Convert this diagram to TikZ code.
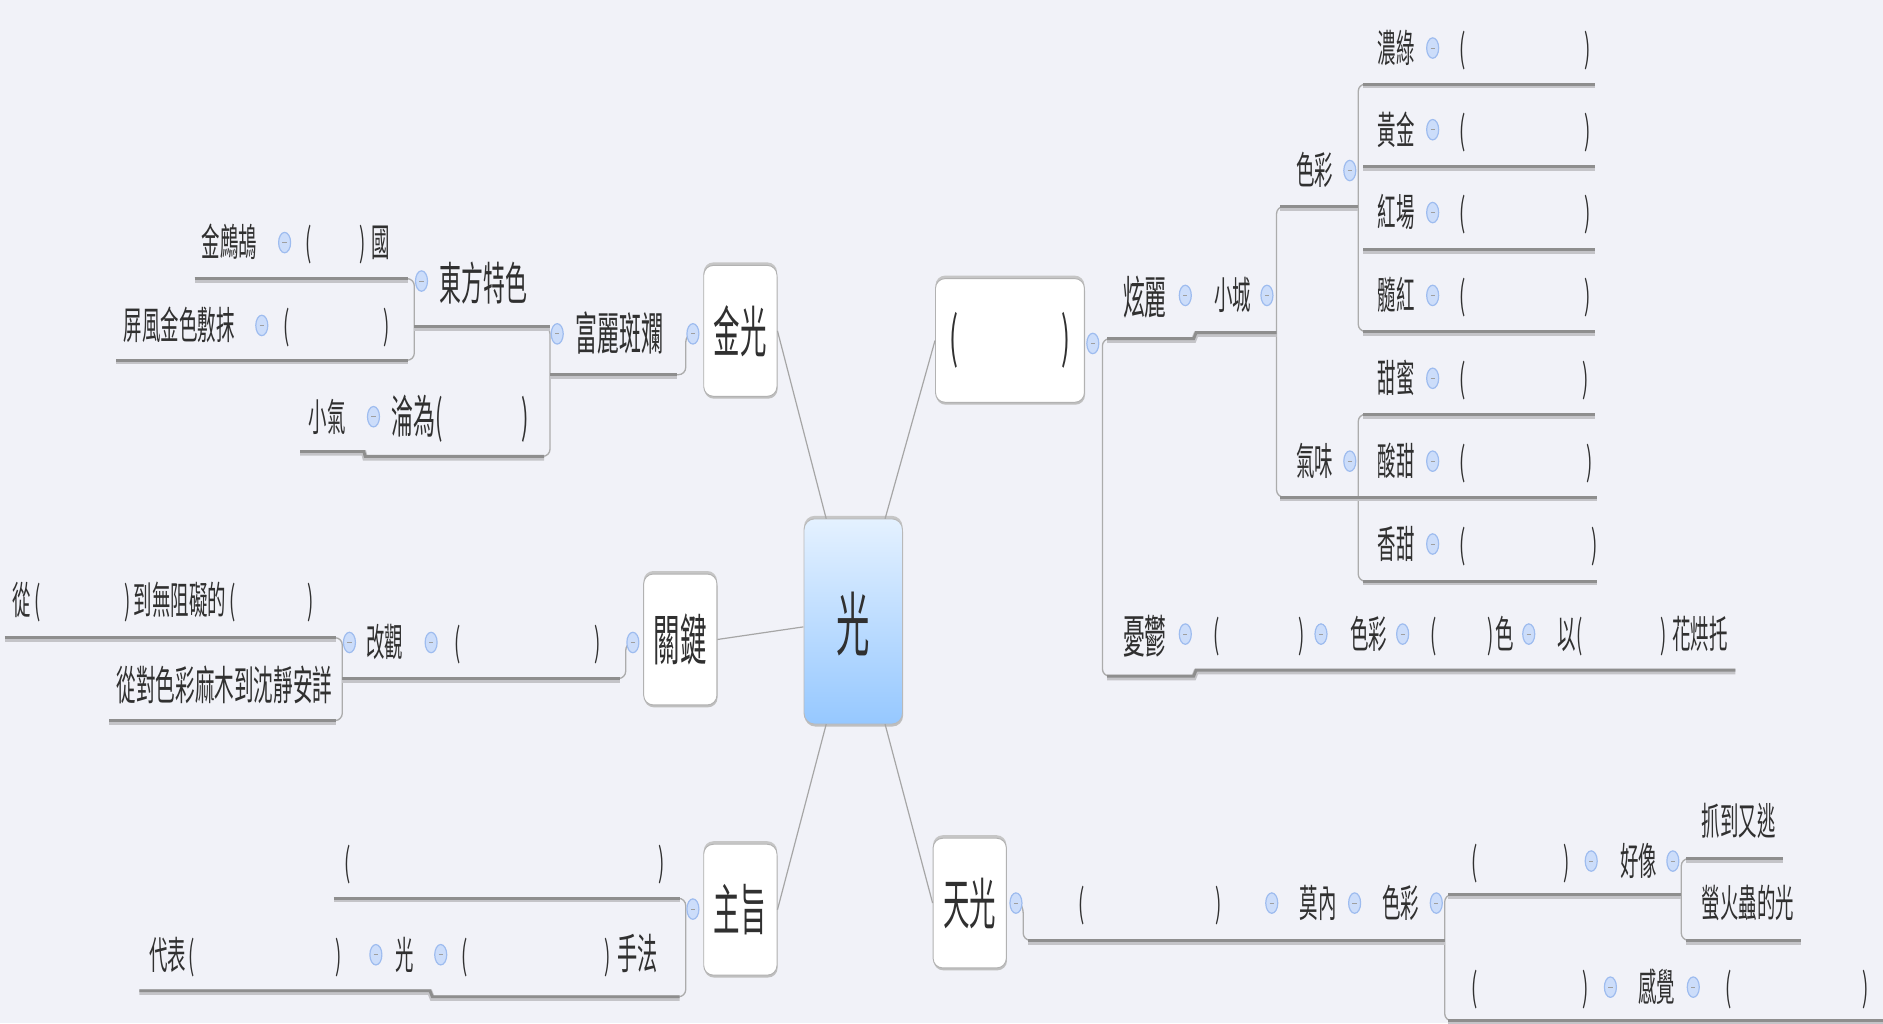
\documentclass[tikz,border=0pt]{standalone}
\usepackage{fontspec}
\newfontfamily\cjk[FakeStretch=0.48]{Noto Sans CJK TC}
\usetikzlibrary{shapes.geometric,shadows}
\definecolor{bgc}{HTML}{F1F2F8}
\definecolor{txc}{HTML}{303030}
\definecolor{lnc}{HTML}{8E8E8E}
\definecolor{lnl}{HTML}{C4C4C8}
\definecolor{mkf}{HTML}{CCDDFA}
\definecolor{mkd}{HTML}{9EBCEF}
\definecolor{ctop}{HTML}{E4F1FF}
\definecolor{cbot}{HTML}{96C8FF}
\newcommand\blk[1]{\makebox[#1pt]{(\hfill)}}
\begin{document}
\begin{tikzpicture}[x=1pt,y=-1pt,
  tx/.style={inner sep=0pt, anchor=west, text=txc},
  tsm/.style={tx, font=\cjk\fontsize{32}{36}\selectfont, text height=28pt, text depth=4pt},
  tmd/.style={tx, font=\cjk\fontsize{38}{42}\selectfont, text height=33pt, text depth=5pt},
  tlg/.style={font=\cjk\fontsize{46}{50}\selectfont, text=txc},
  bx/.style={draw=gray!60, fill=white, rounded corners=8pt, line width=0.8pt, inner sep=0pt,
     general shadow={fill=gray!50, shadow yshift=-2pt, shadow xshift=0.5pt},
     general shadow={fill=gray!45, shadow yshift=2.5pt}},
  mk/.style={ellipse, minimum width=10pt, minimum height=17pt, inner sep=0pt, fill=mkf, draw=mkd, line width=1pt,
     path picture={\draw[gray!75, line width=0.7pt] ([xshift=-1.8pt]path picture bounding box.center) -- ([xshift=1.8pt]path picture bounding box.center);}},
  ul/.style={draw=lnc, line width=2.4pt, preaction={draw=lnl, line width=4.6pt, transform canvas={yshift=-1.2pt}}},
  vl/.style={draw=gray!65, line width=1.1pt, rounded corners=6pt},
  cn/.style={draw=gray!70, line width=1pt}]
\fill[bgc] (0,0) rectangle (1568,852);
\useasboundingbox (0,0) rectangle (1568,852);

% ---------- thin connectors (verticals) ----------
\draw[vl] (335,232) -- (345,232) -- (345,300) -- (335,300);
\draw[vl] (448,272) -- (458,272) -- (458,380) -- (448,380);
\draw[vl] (558,312) -- (571,312) -- (571,279) -- (573,278);
\draw[vl] (275,531) -- (285,531) -- (285,600) -- (275,600);
\draw[vl] (508,565) -- (521,565) -- (521,536) -- (523,535);
\draw[vl] (560,748) -- (571,748) -- (571,830) -- (560,830);
\draw[vl] (928,282) -- (918,282) -- (918,563) -- (928,563);
\draw[vl] (1073,172) -- (1063,172) -- (1063,414) -- (1073,414);
\draw[vl] (1141,70) -- (1131,70) -- (1131,276) -- (1141,276);
\draw[vl] (1141,345) -- (1131,345) -- (1131,484) -- (1141,484);
\draw[vl] (850,752) -- (852,754) -- (852,783) -- (862,783);
\draw[vl] (1213,745) -- (1203,745) -- (1203,850) -- (1213,850);
\draw[vl] (1410,715) -- (1400,715) -- (1400,783) -- (1410,783);

% ---------- underlines ----------
\draw[ul] (162,232) -- (340,232);
\draw[ul] (97,300) -- (340,300);
\draw[ul] (345,272) -- (458,272);
\draw[ul] (250,376) -- (303,376) -- (304,380) -- (453,380);
\draw[ul] (458,312) -- (564,312);
\draw[ul] (4,531) -- (280,531);
\draw[ul] (91,600) -- (280,600);
\draw[ul] (285,565) -- (516,565);
\draw[ul] (278,748) -- (566,748);
\draw[ul] (116,825) -- (358,825) -- (360,830) -- (566,830);
\draw[ul] (922,282) -- (994,282) -- (996,277) -- (1063,277);
\draw[ul] (1066,172) -- (1131,172);
\draw[ul] (1066,414) -- (1330,414);
\draw[ul] (1135,70) -- (1328,70);
\draw[ul] (1135,139) -- (1328,139);
\draw[ul] (1135,208) -- (1328,208);
\draw[ul] (1135,276) -- (1328,276);
\draw[ul] (1135,345) -- (1328,345);
\draw[ul] (1135,484) -- (1330,484);
\draw[ul] (922,563) -- (994,563) -- (996,558) -- (1445,558);
\draw[ul] (856,783) -- (1203,783);
\draw[ul] (1206,745) -- (1400,745);
\draw[ul] (1404,715) -- (1485,715);
\draw[ul] (1404,783) -- (1500,783);
\draw[ul] (1206,850) -- (1568,850);

% ---------- boxes ----------
\node[bx, draw=gray!55, rounded corners=9pt, minimum width=82pt, minimum height=171pt,
      top color=ctop, bottom color=cbot] (c) at (710.5,517.5) {};
\node[font=\cjk\fontsize{58}{62}\selectfont, text=txc] (ct) at (710.5,520) {光};
\node[bx, minimum width=61pt, minimum height=109pt, tlg] (jg) at (616.5,275.5) {金光};
\node[bx, minimum width=61pt, minimum height=109pt, tlg] (gj) at (566.5,532.5) {關鍵};
\node[bx, minimum width=61pt, minimum height=109pt, tlg] (zz) at (616.5,757.5) {主旨};
\node[bx, minimum width=124pt, minimum height=103pt, tlg] (bk) at (841,283.5) {\blk{100}};
\node[bx, minimum width=61pt, minimum height=108pt, tlg] (tg) at (807.5,752) {天光};

\coordinate (c1) at (688,432);
\coordinate (c2) at (737,432);
\coordinate (c3) at (669,522);
\coordinate (c4) at (688,603);
\coordinate (c5) at (737,603);
\draw[cn] (jg.east) -- (c1);
\draw[cn] (bk.west) -- (c2);
\draw[cn] (gj.east) -- (c3);
\draw[cn] (zz.east) -- (c4);
\draw[cn] (tg.west) -- (c5);

% ---------- 金光 branch ----------
\node[tsm] (kzg) at (168,202) {金鷓鴣};
\node[tsm] (kzgb) at (254,202) {\blk{50}\hspace{5pt}國};
\node[tsm] (pfjs) at (103,271) {屏風金色敷抹};
\node[tsm] (pfb) at (236,271) {\blk{88}};
\node[tmd] (dfts) at (366,236) {東方特色};
\node[tmd] (flbl) at (479,278) {富麗斑斕};
\node[tsm] (xq) at (257,347) {小氣};
\node[tmd] (lw) at (326,347) {淪為\blk{78}};

% ---------- 關鍵 branch ----------
\node[tsm] (gjb) at (378,535) {\blk{122}};
\node[tsm] (gg) at (305,535) {改觀};
\node[tsm] (gg1) at (10,500) {從\hspace{3pt}\blk{80}\hspace{3pt}到無阻礙的\hspace{3pt}\blk{70}};
\node[tx, font=\cjk\fontsize{34}{38}\selectfont, text height=30pt, text depth=4pt] (gg2) at (97,570) {從對色彩麻木到沈靜安詳};

% ---------- 主旨 branch ----------
\node[tsm] (zz1) at (287,718) {\blk{266}};
\node[tsm] (db) at (124,795) {代表\hspace{2pt}\blk{128}};
\node[tsm] (zg) at (329,795) {光};
\node[tsm] (sf) at (384,795) {\blk{124}\hspace{6pt}{\fontsize{35}{38}\selectfont 手法}};

% ---------- right-top branch ----------
\node[tmd] (xl) at (935,248) {炫麗};
\node[tsm] (xc) at (1011,246) {小城};
\node[tsm] (sc1) at (1079,142) {色彩};
\node[tsm] (qw) at (1079,384) {氣味};
\node[tsm] (r1) at (1147,40) {濃綠};
\node[tsm] (r2) at (1147,108) {黃金};
\node[tsm] (r3) at (1147,177) {紅場};
\node[tsm] (r4) at (1147,246) {髓紅};
\node[tsm] (r5) at (1147,315) {甜蜜};
\node[tsm] (r6) at (1147,384) {酸甜};
\node[tsm] (r7) at (1147,453) {香甜};
\node[tsm] (b1) at (1215,40) {\blk{109}};
\node[tsm] (b2) at (1215,108) {\blk{109}};
\node[tsm] (b3) at (1215,177) {\blk{109}};
\node[tsm] (b4) at (1215,246) {\blk{109}};
\node[tsm] (b5) at (1215,315) {\blk{108}};
\node[tsm] (b6) at (1215,384) {\blk{111}};
\node[tsm] (b7) at (1215,453) {\blk{115}};
\node[tmd] (yy) at (935,530) {憂鬱};
\node[tsm] (yb) at (1010,528) {\blk{76}};
\node[tsm] (sc2) at (1124,528) {色彩};
\node[tsm] (yb2) at (1191,528) {\blk{53}\hspace{1pt}色};
\node[tsm] (yb3) at (1297,528) {以\blk{75}\hspace{5pt}花烘托};

% ---------- 天光 branch ----------
\node[tsm] (tb1) at (898,752) {\blk{119}};
\node[tsm] (mn) at (1082,752) {莫內};
\node[tsm] (sc3) at (1151,752) {色彩};
\node[tsm] (tb2) at (1225,717) {\blk{82}};
\node[tsm] (hx) at (1349,717) {好像};
\node[tsm] (zd) at (1417,684) {抓到又逃};
\node[tsm] (yh) at (1417,752) {螢火蟲的光};
\node[tsm] (tb3) at (1225,822) {\blk{98}};
\node[tsm] (gjue) at (1364,822) {感覺};
\node[tsm] (tb4) at (1437,822) {\blk{119}};

% ---------- markers ----------
\foreach \p in {(237,202),(218,271),(351,234),(464,278),(577,278),(311,347),
  (291,535),(359,535),(527,535),(577,757),(313,795),(367,795),
  (910,286),(987,246),(1055,246),(1124,142),(1124,384),
  (1193,40),(1193,108),(1193,177),(1193,246),(1193,315),(1193,384),(1193,453),
  (987,528),(1100,528),(1168,528),(1273,528),
  (846,752),(1059,752),(1128,752),(1196,752),(1325,717),(1393,717),(1341,822),(1410,822)}
  \node[mk] at \p {};
\end{tikzpicture}
\end{document}
